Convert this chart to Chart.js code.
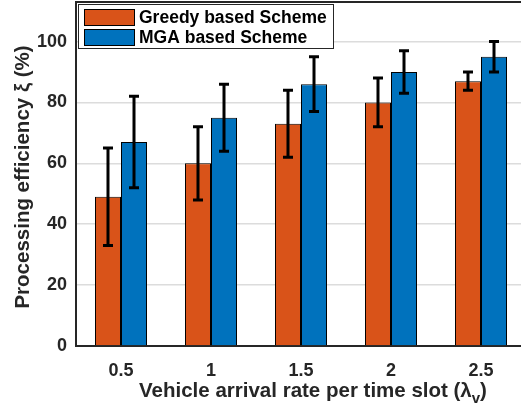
<!DOCTYPE html>
<html>
<head>
<meta charset="utf-8">
<script src="https://cdn.jsdelivr.net/npm/chart.js@4/dist/chart.umd.min.js"></script>
<style>
  html, body { margin: 0; padding: 0; background: #fff; overflow: hidden; }
  #wrap { width: 530px; height: 406px; }
</style>
</head>
<body>
<div id="wrap"><canvas id="chart" width="530" height="406"></canvas></div>
<script>
const categories = ["0.5", "1", "1.5", "2", "2.5"];
const greedyValues = [49, 60, 73, 80, 87];
const greedyLow = [33, 48, 62, 72, 84];
const greedyHigh = [65, 72, 84, 88, 90];
const mgaValues = [67, 75, 86, 90, 95];
const mgaLow = [52, 64, 77, 83, 90];
const mgaHigh = [82, 86, 95, 97, 100];
const yTicks = [0, 20, 40, 60, 80, 100];

const FONT = "'Liberation Sans', Arial, sans-serif";
const INK = "#262626";

// error bars, drawn from the bar elements and the y scale
const errorBars = {
  id: "errorBars",
  afterDatasetsDraw(chart) {
    const ctx = chart.ctx;
    const y = chart.scales.y;
    chart.data.datasets.forEach((ds, i) => {
      const meta = chart.getDatasetMeta(i);
      meta.data.forEach((bar, j) => {
        const top = y.getPixelForValue(ds.errHigh[j]);
        const bot = y.getPixelForValue(ds.errLow[j]);
        ctx.save();
        ctx.strokeStyle = "#000";
        ctx.lineWidth = 3;
        ctx.beginPath();
        ctx.moveTo(bar.x, top); ctx.lineTo(bar.x, bot);
        ctx.moveTo(bar.x - 5, top); ctx.lineTo(bar.x + 5, top);
        ctx.moveTo(bar.x - 5, bot); ctx.lineTo(bar.x + 5, bot);
        ctx.stroke();
        ctx.restore();
      });
    });
  }
};

// box, legend and axis titles
const decorations = {
  id: "decorations",
  afterDraw(chart) {
    const ctx = chart.ctx;
    const area = chart.chartArea;
    ctx.save();
    // top axis line
    ctx.strokeStyle = INK;
    ctx.lineWidth = 2;
    ctx.beginPath();
    ctx.moveTo(area.left - 1, area.top);
    ctx.lineTo(area.right, area.top);
    ctx.stroke();

    // legend
    const lx = 78, ly = 4, lw = 255, lh = 44;
    ctx.fillStyle = "#fff";
    ctx.fillRect(lx, ly, lw, lh);
    ctx.strokeStyle = INK;
    ctx.lineWidth = 1;
    ctx.strokeRect(lx + 0.5, ly + 0.5, lw, lh);
    chart.data.datasets.forEach((ds, i) => {
      const sy = 9 + i * 20;
      ctx.fillStyle = ds.backgroundColor;
      ctx.fillRect(84, sy, 50, 16);
      ctx.strokeStyle = "#000";
      ctx.strokeRect(84.5, sy + 0.5, 50, 16);
      ctx.fillStyle = "#000";
      ctx.font = "bold 17.5px " + FONT;
      ctx.textBaseline = "middle";
      ctx.textAlign = "left";
      ctx.fillText(ds.label, 139, sy + 9);
    });

    // x title with subscript
    ctx.fillStyle = INK;
    ctx.textBaseline = "alphabetic";
    const main = "Vehicle arrival rate per time slot (λ";
    const sub = "v";
    const end = ")";
    const big = "bold 20.5px " + FONT;
    const small = "bold 15px " + FONT;
    ctx.font = big;
    const wMain = ctx.measureText(main).width;
    const wEnd = ctx.measureText(end).width;
    ctx.font = small;
    const wSub = ctx.measureText(sub).width;
    const cx = 313;
    let x = cx - (wMain + wSub + wEnd) / 2;
    const base = 397;
    ctx.font = big;
    ctx.textAlign = "left";
    ctx.fillText(main, x, base);
    x += wMain;
    ctx.font = small;
    ctx.fillText(sub, x, base + 6);
    x += wSub;
    ctx.font = big;
    ctx.fillText(end, x, base);

    // y title
    ctx.translate(23, 177);
    ctx.rotate(-Math.PI / 2);
    ctx.textAlign = "center";
    ctx.textBaseline = "middle";
    ctx.font = big;
    ctx.fillText("Processing efficiency ξ (%)", 0, 0);
    ctx.restore();
  }
};

new Chart(document.getElementById("chart"), {
  type: "bar",
  data: {
    labels: categories,
    datasets: [
      {
        label: "Greedy based Scheme",
        data: greedyValues,
        errLow: greedyLow,
        errHigh: greedyHigh,
        backgroundColor: "#D95319",
        borderColor: "#000",
        borderWidth: 1
      },
      {
        label: "MGA based Scheme",
        data: mgaValues,
        errLow: mgaLow,
        errHigh: mgaHigh,
        backgroundColor: "#0072BD",
        borderColor: "#000",
        borderWidth: 1
      }
    ]
  },
  options: {
    responsive: false,
    animation: false,
    devicePixelRatio: 1,
    categoryPercentage: 0.578,
    barPercentage: 1,
    layout: { padding: { top: 2, right: 4, left: 0, bottom: 0 } },
    plugins: {
      legend: { display: false },
      tooltip: { enabled: false }
    },
    scales: {
      x: {
        grid: { display: false },
        border: { color: INK, width: 2 },
        ticks: {
          color: INK,
          font: { family: FONT, size: 18, weight: "bold" },
          padding: 6
        },
        afterFit(scale) {
          scale.height = 60;
          scale.paddingLeft = 0;
          scale.paddingRight = 0;
        }
      },
      y: {
        min: 0,
        max: 113,
        afterBuildTicks(scale) {
          scale.ticks = yTicks.map(v => ({ value: v }));
        },
        grid: { color: "#dcdcdc", lineWidth: 1.5, drawTicks: false },
        border: { color: INK, width: 2 },
        ticks: {
          color: INK,
          font: { family: FONT, size: 18, weight: "bold" },
          padding: 9
        },
        afterFit(scale) {
          scale.width = 76;
          scale.paddingTop = 0;
          scale.paddingBottom = 0;
        }
      }
    }
  },
  plugins: [errorBars, decorations]
});
</script>
</body>
</html>
